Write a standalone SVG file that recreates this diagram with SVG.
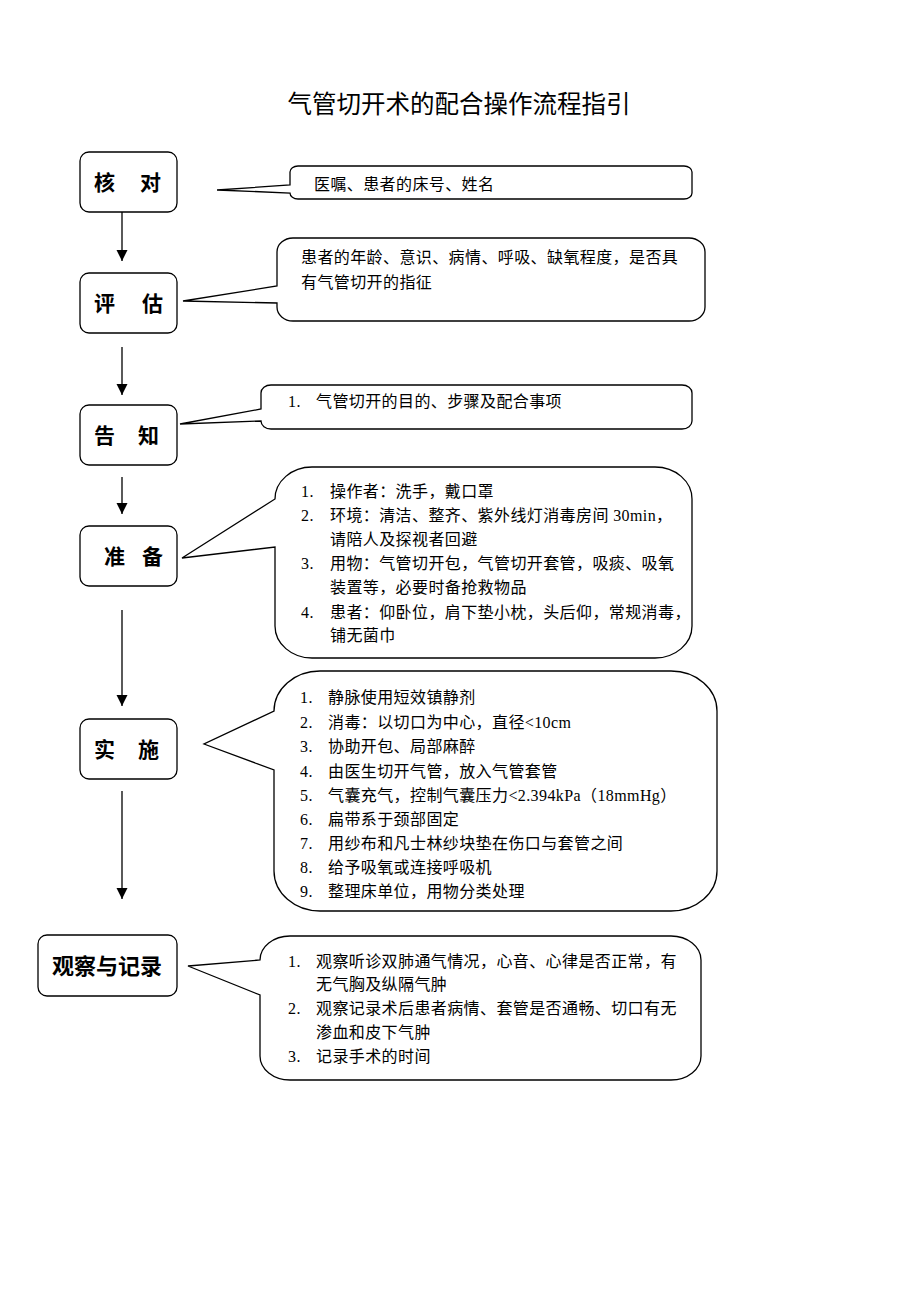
<svg xmlns="http://www.w3.org/2000/svg" width="920" height="1302" viewBox="0 0 920 1302">
<defs>
<marker id="ah" markerUnits="userSpaceOnUse" markerWidth="12" markerHeight="12" viewBox="0 0 12 12" refX="11" refY="6" orient="auto">
<path d="M0,0.5 L11,6 L0,11.5 Z" fill="#000"/>
</marker>
<style>
.box{fill:#fff;stroke:#000;stroke-width:1.3}
.co{fill:#fff;stroke:#000;stroke-width:1.3;stroke-linejoin:miter}
.lbl{font-family:"Noto Sans CJK SC","Noto Sans CJK JP",sans-serif;font-size:21px;font-weight:bold;fill:#000}
.t{font-family:"Liberation Serif","Noto Sans CJK SC",serif;font-size:16px;letter-spacing:0.4px;fill:#000}
.title{font-family:"Liberation Serif","Noto Sans CJK SC",serif;font-size:24.5px;fill:#000}
.ar{stroke:#000;stroke-width:1.3;fill:none;marker-end:url(#ah)}
</style>
</defs>
<rect width="920" height="1302" fill="#fff"/>
<text class="title" x="459" y="113" text-anchor="middle">气管切开术的配合操作流程指引</text>

<g id="connectors">
<line class="ar" x1="122" y1="212" x2="122" y2="261"/>
<line class="ar" x1="122" y1="347" x2="122" y2="395"/>
<line class="ar" x1="122" y1="477" x2="122" y2="514"/>
<line class="ar" x1="122" y1="610" x2="122" y2="706"/>
<line class="ar" x1="122" y1="791" x2="122" y2="899"/>
</g>

<g id="node-hedui">
<rect class="box" x="80" y="152" width="97" height="60" rx="9"/>
<text class="lbl" y="190"><tspan x="94">核</tspan><tspan x="140">对</tspan></text>
</g>
<g id="callout-hedui">
<path class="co" d="M298,166 H684 A8,6 0 0 1 692,172 V193 A8,6 0 0 1 684,199 H298 A8,6 0 0 1 290,193 L217,190 L290,185 V172 A8,6 0 0 1 298,166 Z"/>
<text class="t" x="314" y="190">医嘱、患者的床号、姓名</text>
</g>

<g id="node-pinggu">
<rect class="box" x="80" y="273" width="97" height="60" rx="9"/>
<text class="lbl" y="311"><tspan x="94">评</tspan><tspan x="142">估</tspan></text>
</g>
<g id="callout-pinggu">
<path class="co" d="M293,238 H689 A16,14 0 0 1 705,252 V307 A16,14 0 0 1 689,321 H293 A16,14 0 0 1 277,307 V303 L183,301 L277,286 V252 A16,14 0 0 1 293,238 Z"/>
<text class="t" x="301" y="263">患者的年龄、意识、病情、呼吸、缺氧程度，是否具</text>
<text class="t" x="301" y="288">有气管切开的指征</text>
</g>

<g id="node-gaozhi">
<rect class="box" x="80" y="405" width="97" height="60" rx="9"/>
<text class="lbl" y="443"><tspan x="94">告</tspan><tspan x="138">知</tspan></text>
</g>
<g id="callout-gaozhi">
<path class="co" d="M271,385 H682 A10,8 0 0 1 692,393 V421 A10,8 0 0 1 682,429 H271 A10,8 0 0 1 261,421 L180,424 L261,409 V393 A10,8 0 0 1 271,385 Z"/>
<text class="t" x="288" y="407">1.</text>
<text class="t" x="316" y="407">气管切开的目的、步骤及配合事项</text>
</g>

<g id="node-zhunbei">
<rect class="box" x="80" y="526" width="97" height="60" rx="9"/>
<text class="lbl" y="564"><tspan x="104">准</tspan><tspan x="142">备</tspan></text>
</g>
<g id="callout-zhunbei">
<path class="co" d="M312,467 H655 A37,32 0 0 1 692,499 V626 A37,32 0 0 1 655,658 H312 A37,32 0 0 1 275,626 V547 L182,558 L275,499 A37,32 0 0 1 312,467 Z"/>
<g class="t">
<text x="301" y="496.5">1.</text><text x="330" y="496.5">操作者：洗手，戴口罩</text>
<text x="301" y="520.5">2.</text><text x="330" y="520.5">环境：清洁、整齐、紫外线灯消毒房间 30min，</text>
<text x="330" y="545">请陪人及探视者回避</text>
<text x="301" y="569">3.</text><text x="330" y="569">用物：气管切开包，气管切开套管，吸痰、吸氧</text>
<text x="330" y="593">装置等，必要时备抢救物品</text>
<text x="301" y="617.5">4.</text><text x="330" y="617.5">患者：仰卧位，肩下垫小枕，头后仰，常规消毒，</text>
<text x="330" y="641">铺无菌巾</text>
</g>
</g>

<g id="node-shishi">
<rect class="box" x="80" y="719" width="97" height="60" rx="9"/>
<text class="lbl" y="757"><tspan x="94">实</tspan><tspan x="138">施</tspan></text>
</g>
<g id="callout-shishi">
<path class="co" d="M320,671 H671 A46,40 0 0 1 717,711 V871 A46,40 0 0 1 671,911 H320 A46,40 0 0 1 274,871 V770 L204,744 L274,711 A46,40 0 0 1 320,671 Z"/>
<g class="t">
<text x="300" y="703">1.</text><text x="328" y="703">静脉使用短效镇静剂</text>
<text x="300" y="727.5">2.</text><text x="328" y="727.5">消毒：以切口为中心，直径&lt;10cm</text>
<text x="300" y="752">3.</text><text x="328" y="752">协助开包、局部麻醉</text>
<text x="300" y="776.5">4.</text><text x="328" y="776.5">由医生切开气管，放入气管套管</text>
<text x="300" y="801">5.</text><text x="328" y="801">气囊充气，控制气囊压力&lt;2.394kPa（18mmHg）</text>
<text x="300" y="825">6.</text><text x="328" y="825">扁带系于颈部固定</text>
<text x="300" y="849">7.</text><text x="328" y="849">用纱布和凡士林纱块垫在伤口与套管之间</text>
<text x="300" y="873">8.</text><text x="328" y="873">给予吸氧或连接呼吸机</text>
<text x="300" y="897">9.</text><text x="328" y="897">整理床单位，用物分类处理</text>
</g>
</g>

<g id="node-guancha">
<rect class="box" x="38" y="935" width="139" height="61" rx="9"/>
<text class="lbl" x="52" y="974" style="font-size:22px">观察与记录</text>
</g>
<g id="callout-guancha">
<path class="co" d="M290,936 H671 A30,24 0 0 1 701,960 V1056 A30,24 0 0 1 671,1080 H290 A30,24 0 0 1 260,1056 V995 L188,966 L260,960 A30,24 0 0 1 290,936 Z"/>
<g class="t">
<text x="288" y="966.5">1.</text><text x="316" y="966.5">观察听诊双肺通气情况，心音、心律是否正常，有</text>
<text x="316" y="990">无气胸及纵隔气肿</text>
<text x="288" y="1014">2.</text><text x="316" y="1014">观察记录术后患者病情、套管是否通畅、切口有无</text>
<text x="316" y="1038">渗血和皮下气肿</text>
<text x="288" y="1061.5">3.</text><text x="316" y="1061.5">记录手术的时间</text>
</g>
</g>
</svg>
